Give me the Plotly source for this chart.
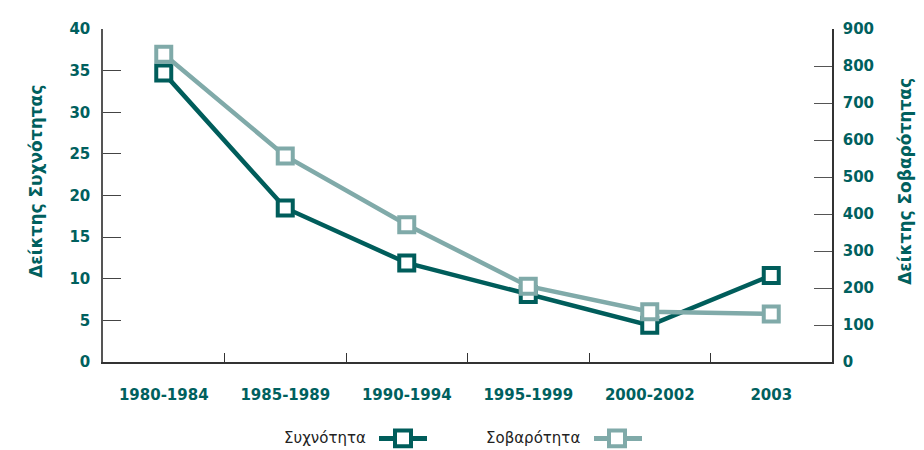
import plotly.graph_objects as go

categories = ["1980-1984", "1985-1989", "1990-1994", "1995-1999", "2000-2002", "2003"]
frequency = [34.7, 18.5, 11.9, 8.1, 4.4, 10.4]
severity = [832, 557, 371, 205, 136, 130]

DARK = "#005D5B"
LIGHT = "#80AAA9"
TICK = "#00605E"
FONT = "DejaVu Sans"

# page is offset by the default 8px body margin
OFF = 8
W, H = 924 - OFF, 450 - OFF
L, T = 103 - OFF, 22 - OFF
R = W - (832 - OFF)
B = H - (362 - OFF)
pw, ph = W - L - R, H - T - B

def px(x):
    return (x - OFF - L) / pw

def py(y):
    return (H - B - (y - OFF)) / ph

fig = go.Figure()
fig.add_trace(go.Scatter(
    x=categories, y=frequency, name="Συχνότητα", mode="lines+markers",
    line=dict(color=DARK, width=4.5),
    marker=dict(symbol="square", size=15, color="white", line=dict(color=DARK, width=4)),
    yaxis="y", cliponaxis=False,
))
fig.add_trace(go.Scatter(
    x=categories, y=severity, name="Σοβαρότητα", mode="lines+markers",
    line=dict(color=LIGHT, width=4.5),
    marker=dict(symbol="square", size=15, color="white", line=dict(color=LIGHT, width=4)),
    yaxis="y2", cliponaxis=False,
))

tickfont = dict(family=FONT, size=15, color=TICK, weight="bold")

shapes = []
annotations = [
    dict(text="Δείκτης Συχνότητας", textangle=-90, x=px(36), y=py(178), xref="paper", yref="paper",
         xanchor="center", yanchor="middle",
         showarrow=False, font=dict(family=FONT, size=17, color=TICK, weight="bold")),
    dict(text="Δείκτης Σοβαρότητας", textangle=-90, x=px(905), y=py(178), xref="paper", yref="paper",
         xanchor="center", yanchor="middle",
         showarrow=False, font=dict(family=FONT, size=17, color=TICK, weight="bold")),
]
legend_items = [("Συχνότητα", DARK, 368, 379, 427, 403), ("Σοβαρότητα", LIGHT, 582, 594, 642, 617)]
for name, col, tx, l0, l1, c in legend_items:
    annotations.append(dict(text=name, x=px(tx), y=py(440), xref="paper", yref="paper", xanchor="right",
                            yanchor="middle", showarrow=False,
                            font=dict(family=FONT, size=15, color="#222222")))
    shapes.append(dict(type="line", xref="paper", yref="paper", x0=px(l0), x1=px(l1), y0=py(440), y1=py(440),
                       line=dict(color=col, width=5)))
    shapes.append(dict(type="rect", xref="paper", yref="paper", x0=px(c - 8), x1=px(c + 8),
                       y0=py(448), y1=py(432), fillcolor="white", line=dict(color=col, width=4)))

fig.update_layout(
    width=W, height=H,
    margin=dict(l=L, r=R, t=T, b=B),
    paper_bgcolor="white", plot_bgcolor="white",
    showlegend=False,
    xaxis=dict(type="category", range=[-0.5, 5.5], showgrid=False, showline=True, linecolor="#333333",
               linewidth=1.5, ticks="inside", tickson="boundaries", ticklen=9, tickcolor="#333333",
               tickfont=tickfont, ticklabelstandoff=18, zeroline=False),
    yaxis=dict(range=[0, 40], dtick=5, showgrid=False, showline=True, linecolor="#555555", linewidth=1.5,
               ticks="inside", ticklen=18, tickcolor="#444444", tickfont=tickfont, zeroline=False,
               ticklabelstandoff=8),
    yaxis2=dict(range=[0, 900], dtick=100, overlaying="y", side="right", showgrid=False, showline=True,
                linecolor="#333333", linewidth=1.5, ticks="inside", ticklen=18, tickcolor="#555555",
                tickfont=tickfont, zeroline=False, ticklabelstandoff=6),
    shapes=shapes,
    annotations=annotations,
)

fig.write_html("out.html")
